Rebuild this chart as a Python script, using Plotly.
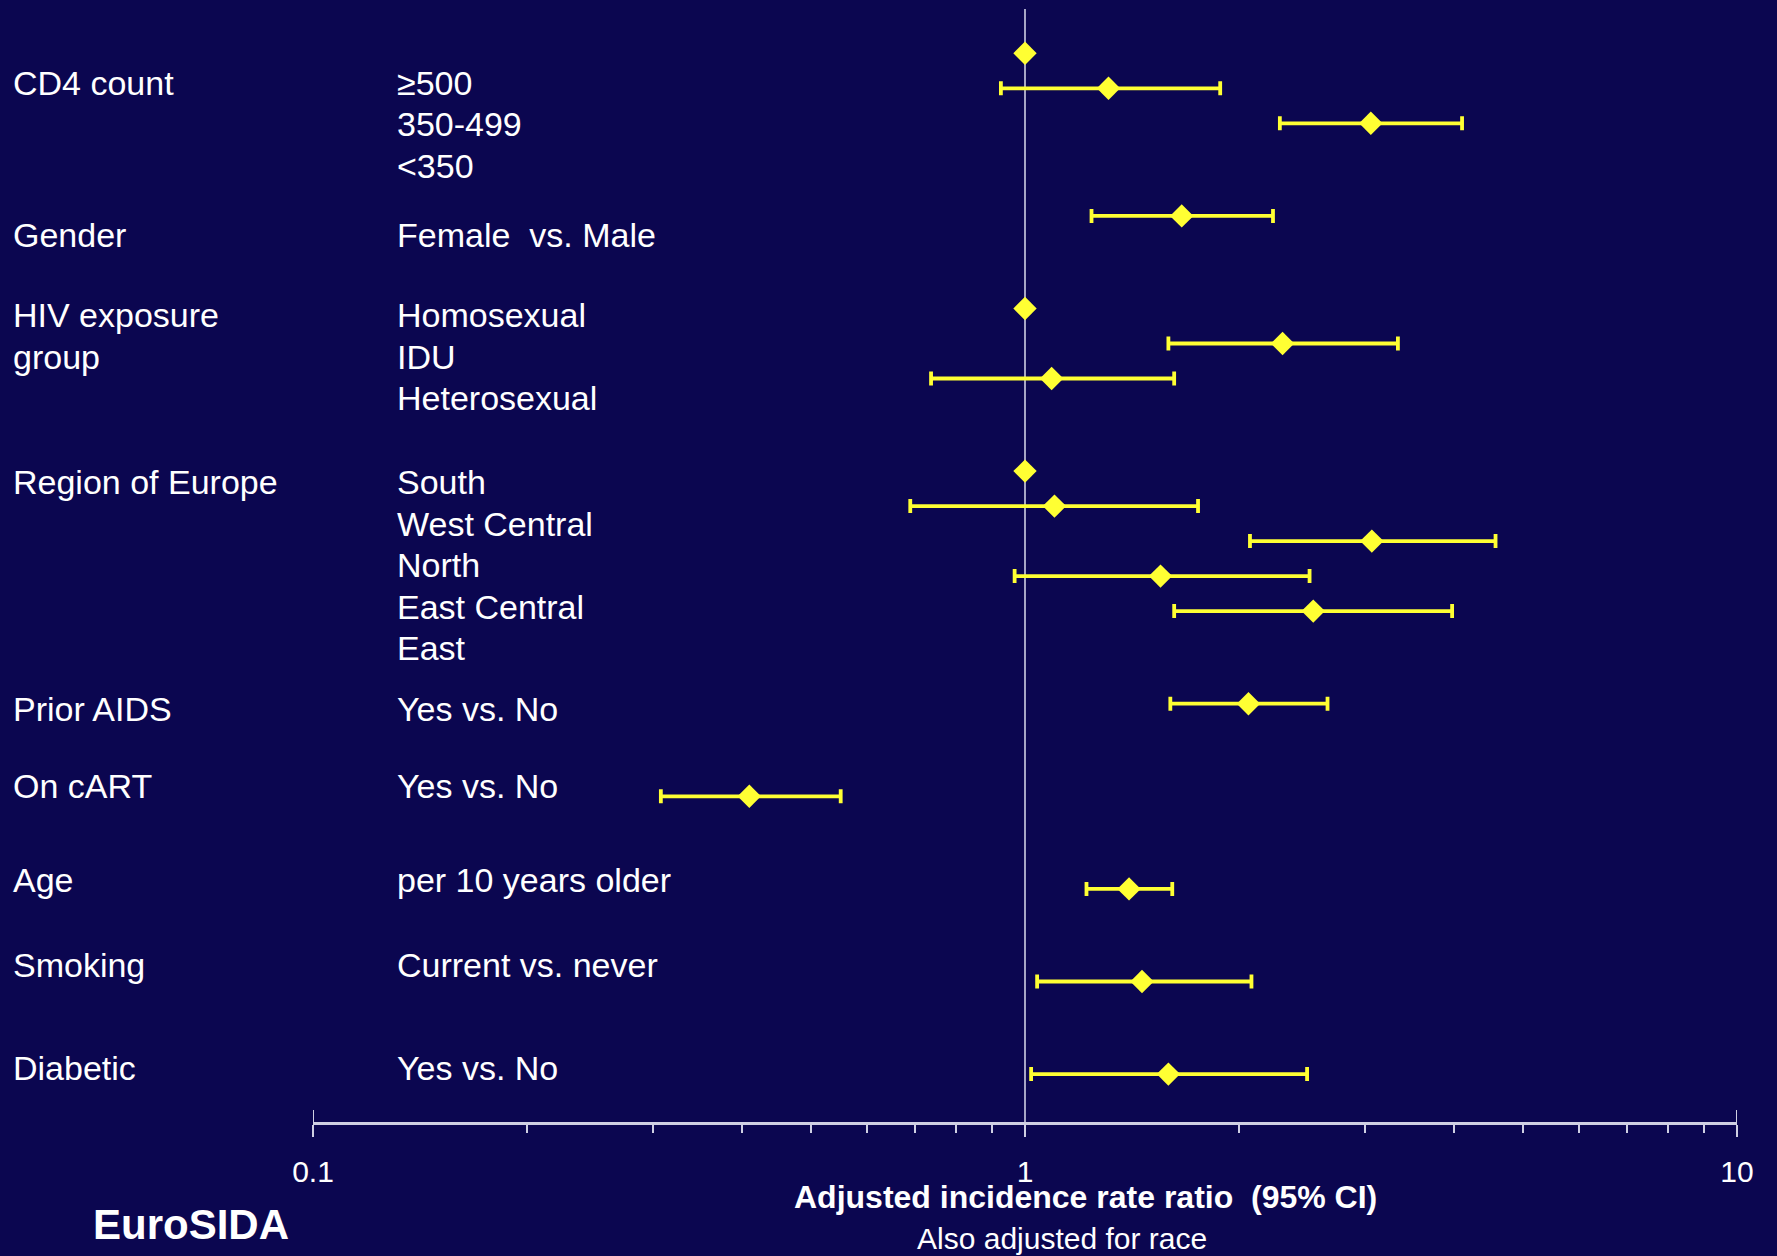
import plotly.graph_objects as go

# ---------------- data ----------------
group_names = ["CD4 count", "Gender", "HIV exposure", "Region of Europe",
               "Prior AIDS", "On cART", "Age", "Smoking", "Diabetic"]
group_name_lines = [["CD4 count"], ["Gender"], ["HIV exposure", "group"], ["Region of Europe"],
                    ["Prior AIDS"], ["On cART"], ["Age"], ["Smoking"], ["Diabetic"]]
level_labels = [["≥500", "350-499", "<350"],
                ["Female  vs. Male"],
                ["Homosexual", "IDU", "Heterosexual"],
                ["South", "West Central", "North", "East Central", "East"],
                ["Yes vs. No"],
                ["Yes vs. No"],
                ["per 10 years older"],
                ["Current vs. never"],
                ["Yes vs. No"]]

# markers per group (reference rows have no CI)
markers_per_group = [3, 1, 3, 5, 1, 1, 1, 1, 1]
estimate = [1.00, 1.31, 3.06, 1.66, 1.00, 2.30, 1.09, 1.00, 1.10, 3.07, 1.55, 2.54, 2.06, 0.41, 1.40, 1.46, 1.59]
lower    = [None, 0.925, 2.28, 1.24, None, 1.59, 0.738, None, 0.69, 2.07, 0.967, 1.62, 1.60, 0.308, 1.22, 1.04, 1.02]
upper    = [None, 1.88, 4.11, 2.23, None, 3.34, 1.62, None, 1.75, 4.58, 2.51, 3.98, 2.66, 0.551, 1.61, 2.08, 2.49]

x_tick_labels = ["0.1", "1", "10"]

# ---------------- layout constants (pixels) ----------------
W, H = 1777, 1256
X_LEFT, X_RIGHT = 313, 1737     # plot-area x extent
Y_TOP, Y_AXIS = 9, 1122         # plot-area y extent

FIRST_ROW = 53.3
ROW_STEP = 35.0
GROUP_GAP = 92.6

TEXT_TOPS = [82.7, 235, 315, 482, 709, 786, 880, 965, 1068]
TEXT_STEP = 41.6
COL1_X, COL2_X = 11, 395

BG = "#0B0650"
YELLOW = "#FFFF33"
AXIS_COL = "#CFCFE3"

def px_x(px):
    return (px - X_LEFT) / (X_RIGHT - X_LEFT)

def px_y(py):
    return (Y_AXIS - py) / (Y_AXIS - Y_TOP)

# row positions derived from group structure
row_y = []
y = FIRST_ROW
for gi, n in enumerate(markers_per_group):
    if gi > 0:
        y += GROUP_GAP
    for k in range(n):
        if k > 0:
            y += ROW_STEP
        row_y.append(y)

ci_x, ci_y, ci_plus, ci_minus = [], [], [], []
ref_x, ref_y = [], []
for est, lo, hi, yy in zip(estimate, lower, upper, row_y):
    if lo is None:
        ref_x.append(est); ref_y.append(yy)
    else:
        ci_x.append(est); ci_y.append(yy)
        ci_plus.append(hi - est); ci_minus.append(est - lo)

fig = go.Figure()
fig.add_trace(go.Scatter(
    x=ci_x, y=ci_y, mode="markers",
    marker=dict(symbol="diamond", size=18, color=YELLOW, line=dict(width=0)),
    error_x=dict(type="data", symmetric=False, array=ci_plus, arrayminus=ci_minus,
                 color=YELLOW, thickness=3.8, width=7),
    hoverinfo="skip", showlegend=False))
fig.add_trace(go.Scatter(
    x=ref_x, y=ref_y, mode="markers",
    marker=dict(symbol="diamond", size=18, color=YELLOW, line=dict(width=0)),
    hoverinfo="skip", showlegend=False))

# reference line at 1
fig.add_shape(type="line", xref="x", yref="y", x0=1, x1=1, y0=Y_TOP, y1=Y_AXIS,
              line=dict(color=AXIS_COL, width=1.6), layer="below")
# major ticks above the axis at 0.1 and 10
for v in (0.1, 10):
    fig.add_shape(type="line", xref="x", yref="y", x0=v, x1=v, y0=Y_AXIS - 12, y1=Y_AXIS,
                  line=dict(color=AXIS_COL, width=2))

annotations = []
label_font = dict(family="Liberation Sans, Arial, sans-serif", size=34, color="white")
for gi in range(len(group_names)):
    top = TEXT_TOPS[gi]
    for li, txt in enumerate(group_name_lines[gi]):
        annotations.append(dict(x=px_x(COL1_X), xref="paper", y=top + li * TEXT_STEP, yref="y",
                                text=txt, showarrow=False, xanchor="left", yanchor="middle",
                                font=label_font))
    for li, txt in enumerate(level_labels[gi]):
        annotations.append(dict(x=px_x(COL2_X), xref="paper", y=top + li * TEXT_STEP, yref="y",
                                text=txt, showarrow=False, xanchor="left", yanchor="middle",
                                font=label_font))

annotations.append(dict(x=px_x(1085), y=px_y(1197), xref="paper", yref="paper",
                        text="<b>Adjusted incidence rate ratio  (95% CI)</b>", showarrow=False,
                        xanchor="center", yanchor="middle",
                        font=dict(family="Liberation Sans, Arial, sans-serif", size=32, color="white")))
annotations.append(dict(x=px_x(1062), y=px_y(1238), xref="paper", yref="paper",
                        text="Also adjusted for race", showarrow=False,
                        xanchor="center", yanchor="middle",
                        font=dict(family="Liberation Sans, Arial, sans-serif", size=30, color="white")))
annotations.append(dict(x=px_x(91), y=px_y(1224), xref="paper", yref="paper",
                        text="<b>EuroSIDA</b>", showarrow=False,
                        xanchor="left", yanchor="middle",
                        font=dict(family="Liberation Sans, Arial, sans-serif", size=42, color="white")))

minor_vals = [k / 10 for k in range(2, 10)] + [float(k) for k in range(2, 10)]

fig.update_layout(
    width=W, height=H,
    margin=dict(l=X_LEFT, r=W - X_RIGHT, t=Y_TOP, b=H - Y_AXIS),
    paper_bgcolor=BG, plot_bgcolor=BG,
    showlegend=False,
    annotations=annotations,
    xaxis=dict(type="log", range=[-1, 1], tickmode="array",
               tickvals=[0.1, 1, 10], ticktext=x_tick_labels,
               ticks="outside", ticklen=12, tickwidth=2, tickcolor=AXIS_COL,
               showline=True, linecolor=AXIS_COL, linewidth=2.5,
               showgrid=False, zeroline=False,
               ticklabelstandoff=9,
               tickfont=dict(family="Liberation Sans, Arial, sans-serif", size=30, color="white"),
               minor=dict(tickmode="array", tickvals=minor_vals, ticks="outside",
                          ticklen=8, tickwidth=1.5, tickcolor=AXIS_COL, showgrid=False)),
    yaxis=dict(range=[Y_AXIS, Y_TOP], visible=False, showgrid=False, zeroline=False),
)

fig.write_html("out.html", config={"displayModeBar": False},
               post_script="document.body.style.margin='0';document.body.style.background='%s';" % BG)
